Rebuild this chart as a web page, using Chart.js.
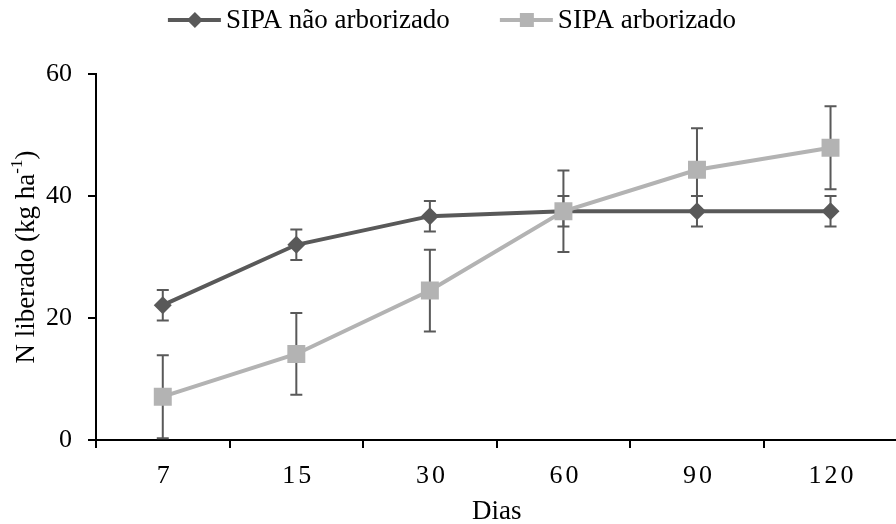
<!DOCTYPE html>
<html lang="pt">
<head>
  <meta charset="UTF-8">
  <title>N liberado - SIPA</title>
  <script src="https://cdn.jsdelivr.net/npm/chart.js"></script>
  <style>
    html, body { margin: 0; padding: 0; background: #fff; overflow: hidden; }
    #grafico { display: block; }
  </style>
</head>
<body>
  <canvas id="grafico" width="910" height="524"></canvas>

  <script>
    // Dias de incubação e N liberado (kg/ha), com desvio para as barras de erro
    const dias = ['7', '15', '30', '60', '90', '120'];
    const naoArborizado = [22.1, 32.0, 36.7, 37.5, 37.5, 37.5];
    const naoArborizadoErro = [2.5, 2.5, 2.5, 2.5, 2.5, 2.5];
    const arborizado = [7.1, 14.1, 24.5, 37.5, 44.3, 47.9];
    const arborizadoErro = [6.8, 6.7, 6.7, 6.7, 6.8, 6.8];
    const yTicks = [0, 20, 40, 60];

    const escuro = '#595959';
    const claro = '#b3b3b3';
    const fonte = '"Liberation Serif", "Times New Roman", serif';
    const tam = 26;      // rótulos dos eixos
    const tamTexto = 27; // legenda e títulos

    // barras de erro por baixo das linhas; espaçamento das letras só nos rótulos do eixo x
    const barrasErro = {
      id: 'barrasErro',
      beforeDraw(chart) {
        chart.ctx.letterSpacing = '3px';
      },
      beforeDatasetsDraw(chart) {
        const ctx = chart.ctx;
        ctx.letterSpacing = '0px';
        const y = chart.scales.y;
        ctx.save();
        ctx.strokeStyle = escuro;
        ctx.lineWidth = 2;
        chart.data.datasets.forEach((ds, i) => {
          const meta = chart.getDatasetMeta(i);
          meta.data.forEach((pt, j) => {
            const v = ds.data[j], e = ds.erro[j];
            const top = y.getPixelForValue(v + e);
            const bot = y.getPixelForValue(v - e);
            ctx.beginPath();
            ctx.moveTo(pt.x, top); ctx.lineTo(pt.x, bot);
            ctx.moveTo(pt.x - 6, top); ctx.lineTo(pt.x + 6, top);
            ctx.moveTo(pt.x - 6, bot); ctx.lineTo(pt.x + 6, bot);
            ctx.stroke();
          });
        });
        ctx.restore();
      }
    };

    // legenda (linha + marcador), título do eixo x e título do eixo y com sobrescrito
    const textos = {
      id: 'textos',
      afterDraw(chart) {
        const ctx = chart.ctx;
        const area = chart.chartArea;
        ctx.save();
        ctx.letterSpacing = '0px';
        ctx.fillStyle = '#000';
        ctx.textBaseline = 'middle';
        ctx.font = tamTexto + 'px ' + fonte;

        const larg = chart.data.datasets.map(ds => 58 + ctx.measureText(ds.label).width);
        const gap = 50;
        const total = larg.reduce((s, w) => s + w, 0) + gap * (larg.length - 1);
        let x = 452 - total / 2;
        const ly = 20;
        chart.data.datasets.forEach((ds, i) => {
          ctx.strokeStyle = ds.borderColor;
          ctx.lineWidth = 4;
          ctx.beginPath();
          ctx.moveTo(x, ly); ctx.lineTo(x + 53, ly);
          ctx.stroke();
          ctx.fillStyle = ds.pointBackgroundColor;
          ctx.beginPath();
          if (ds.pointStyle === 'rectRot') {
            ctx.moveTo(x + 27, ly - 8); ctx.lineTo(x + 35, ly);
            ctx.lineTo(x + 27, ly + 8); ctx.lineTo(x + 19, ly);
          } else {
            ctx.rect(x + 20, ly - 7, 14, 14);
          }
          ctx.fill();
          ctx.fillStyle = '#000';
          ctx.textAlign = 'left';
          ctx.fillText(ds.label, x + 58, ly + 1);
          x += larg[i] + gap;
        });

        // eixo x
        ctx.textAlign = 'center';
        ctx.fillText('Dias', (area.left + area.right) / 2, 512);

        // eixo y: N liberado (kg ha-1)
        const a = 'N liberado (kg ha', sup = '-1', b = ')';
        const wa = ctx.measureText(a).width, wb = ctx.measureText(b).width;
        ctx.font = '17px ' + fonte;
        const ws = ctx.measureText(sup).width;
        ctx.translate(27, (area.top + area.bottom) / 2);
        ctx.rotate(-Math.PI / 2);
        const tx = -(wa + ws + wb) / 2;
        ctx.textAlign = 'left';
        ctx.font = tamTexto + 'px ' + fonte;
        ctx.fillText(a, tx, 0);
        ctx.font = '17px ' + fonte;
        ctx.fillText(sup, tx + wa, -9);
        ctx.font = tamTexto + 'px ' + fonte;
        ctx.fillText(b, tx + wa + ws, 0);
        ctx.restore();
      }
    };

    new Chart(document.getElementById('grafico'), {
      type: 'line',
      data: {
        labels: dias,
        datasets: [{
          label: 'SIPA não arborizado',
          data: naoArborizado,
          erro: naoArborizadoErro,
          borderColor: escuro,
          backgroundColor: escuro,
          pointBackgroundColor: escuro,
          pointBorderColor: escuro,
          pointStyle: 'rectRot',
          pointRadius: 9,
          pointBorderWidth: 0,
          borderWidth: 4,
          order: 1
        }, {
          label: 'SIPA arborizado',
          data: arborizado,
          erro: arborizadoErro,
          borderColor: claro,
          backgroundColor: claro,
          pointBackgroundColor: claro,
          pointBorderColor: claro,
          pointStyle: 'rect',
          pointRadius: 12.7,
          pointBorderWidth: 0,
          borderWidth: 4,
          order: 0
        }]
      },
      options: {
        responsive: false,
        animation: false,
        layout: { padding: { top: 74, right: 4, left: 0, bottom: 0 } },
        plugins: { legend: { display: false }, tooltip: { enabled: false } },
        scales: {
          x: {
            offset: true,
            grid: { display: true, drawOnChartArea: false, offset: true, tickLength: 8, color: '#000', lineWidth: 2 },
            border: { color: '#000', width: 2 },
            ticks: { color: '#000', font: { family: fonte, size: tam }, padding: 13, maxRotation: 0, labelOffset: 2 },
            afterFit(s) { s.height = 84; }
          },
          y: {
            min: 0, max: 60,
            afterBuildTicks(s) { s.ticks = yTicks.map(v => ({ value: v })); },
            grid: { display: true, drawOnChartArea: false, tickLength: 8, color: '#000', lineWidth: 2 },
            border: { color: '#000', width: 2 },
            ticks: { color: '#000', font: { family: fonte, size: tam }, padding: 16, z: 1 },
            afterFit(s) { s.width = 96; }
          }
        }
      },
      plugins: [barrasErro, textos]
    });
  </script>
</body>
</html>
